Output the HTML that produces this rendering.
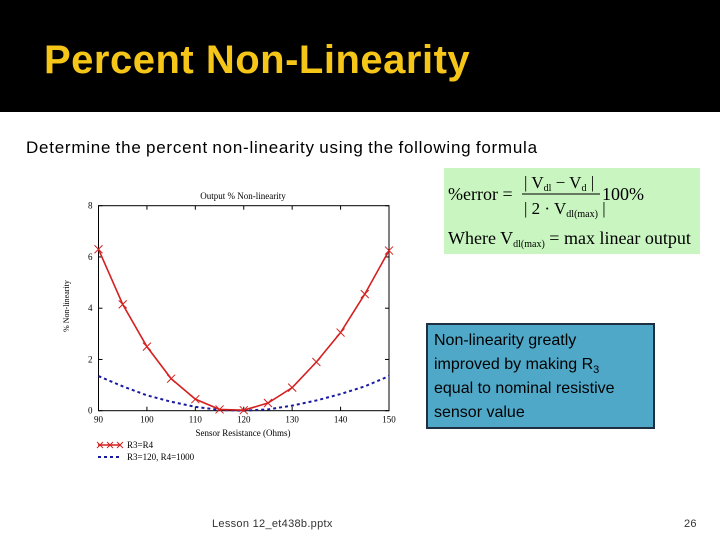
<!DOCTYPE html>
<html><head><meta charset="utf-8"><style>
body{margin:0;width:720px;height:540px;background:#fff;position:relative;overflow:hidden;font-family:"Liberation Sans",sans-serif}
.hdr{position:absolute;left:0;top:0;width:720px;height:112px;background:#000}
.title{position:absolute;left:44px;top:38px;color:#f5c518;font-size:40px;font-weight:bold;letter-spacing:0.5px}
.sub{position:absolute;left:26px;top:138px;font-size:17px;color:#000;letter-spacing:0.75px;word-spacing:-1px}
.formula{position:absolute;left:444px;top:168px;width:256px;height:86px;background:#c9f5c0;font-family:"Liberation Serif",serif;font-size:17px}
.note{position:absolute;left:426px;top:323px;width:229px;height:106px;background:#4fa8c8;border:2px solid #1d2f40;box-sizing:border-box;padding:4px 6px;font-size:16px;line-height:24px;color:#000;white-space:nowrap}
.note sub{font-size:11px;line-height:0;vertical-align:-4px}
.foot{position:absolute;top:518px;font-size:11px;color:#333;letter-spacing:0.3px}
</style></head><body>
<div class="hdr"></div>
<div class="title">Percent Non-Linearity</div>
<div class="sub">Determine the percent non-linearity using the following formula</div>
<div class="formula">
<svg width="256" height="86">
<text x="4" y="32" font-size="18">%error =</text>
<text x="80" y="20" font-size="17">| V<tspan font-size="10" dy="3">dl</tspan><tspan dy="-3"> − V</tspan><tspan font-size="10" dy="3">d</tspan><tspan dy="-3"> |</tspan></text>
<line x1="78" y1="26" x2="156" y2="26" stroke="#000"/>
<text x="80" y="46" font-size="17">| 2 · V<tspan font-size="10" dy="3">dl(max)</tspan><tspan dy="-3"> |</tspan></text>
<text x="158" y="32" font-size="18">100%</text>
<text x="4" y="76" font-size="18">Where V<tspan font-size="10" dy="3">dl(max)</tspan><tspan dy="-3"> = max linear output</tspan></text>
</svg></div>
<div class="note">Non-linearity greatly<br>improved by making R<sub>3</sub><br>equal to nominal resistive<br>sensor value</div>
<svg id="chart" style="position:absolute;left:0;top:0" width="720" height="540"></svg>
<div class="foot" style="left:212px">Lesson 12_et438b.pptx</div>
<div class="foot" style="left:684px">26</div>
<script>
const xs=[90,95,100,105,110,115,120,125,130,135,140,145,150];
const red=[6.3,4.15,2.5,1.25,0.45,0.05,0.02,0.3,0.9,1.9,3.05,4.55,6.25];
const blue=[1.35,0.95,0.6,0.35,0.15,0.03,0,0.05,0.2,0.4,0.65,0.95,1.35];
const xTicks=[90,100,110,120,130,140,150];
const yTicks=[0,2,4,6,8];
const svg=document.getElementById('chart');
const NS='http://www.w3.org/2000/svg';
const L=98.5,R=389,T=205.7,B=410.7;
const X=v=>L+(v-90)/60*(R-L), Y=v=>B-v/8*(B-T);
function mk(t,a,p){const e=document.createElementNS(NS,t);for(const k in a)e.setAttribute(k,a[k]);(p||svg).appendChild(e);return e;}
const frame=mk('rect',{x:L,y:T,width:R-L,height:B-T,fill:'none',stroke:'#000','stroke-width':1});


const ff='Liberation Serif,serif';
xTicks.forEach(v=>{mk('line',{x1:X(v),x2:X(v),y1:B,y2:B-4,stroke:'#000'});mk('line',{x1:X(v),x2:X(v),y1:T,y2:T+4,stroke:'#000'});
const t=mk('text',{x:X(v),y:B+12,'font-size':9,'text-anchor':'middle','font-family':ff});t.textContent=v;

});
yTicks.forEach(v=>{mk('line',{x1:L,x2:L+4,y1:Y(v),y2:Y(v),stroke:'#000'});mk('line',{x1:R,x2:R-4,y1:Y(v),y2:Y(v),stroke:'#000'});
const t=mk('text',{x:L-6,y:Y(v)+3,'font-size':9,'text-anchor':'end','font-family':ff});t.textContent=v;

});
let t=mk('text',{x:243,y:199,'font-size':9,'text-anchor':'middle','font-family':ff});t.textContent='Output % Non-linearity';


t=mk('text',{x:243,y:436,'font-size':9,'text-anchor':'middle','font-family':ff});t.textContent='Sensor Resistance (Ohms)';


t=mk('text',{x:69,y:306,'font-size':8,'text-anchor':'middle','font-family':ff,transform:'rotate(-90 69 306)'});t.textContent='% Non-linearity';


const bl=mk('polyline',{points:xs.map((x,i)=>X(x)+','+Y(blue[i])).join(' '),fill:'none',stroke:'#1a1aa0','stroke-width':2,'stroke-dasharray':'3,3'});


const rl=mk('polyline',{points:xs.map((x,i)=>X(x)+','+Y(red[i])).join(' '),fill:'none',stroke:'#d42020','stroke-width':1.6});


xs.forEach((x,i)=>{const cx=X(x),cy=Y(red[i]);const g=mk('g',{stroke:'#d42020','stroke-width':1});
mk('line',{x1:cx-4,y1:cy-4,x2:cx+4,y2:cy+4},g);mk('line',{x1:cx-4,y1:cy+4,x2:cx+4,y2:cy-4},g);

});
mk('line',{x1:98,x2:120,y1:445,y2:445,stroke:'#d42020','stroke-width':1.5});
[100,110,120].forEach(cx=>{mk('line',{x1:cx-3,y1:442,x2:cx+3,y2:448,stroke:'#d42020'});mk('line',{x1:cx-3,y1:448,x2:cx+3,y2:442,stroke:'#d42020'});});
t=mk('text',{x:127,y:448,'font-size':9,'font-family':ff});t.textContent='R3=R4';


mk('line',{x1:98,x2:120,y1:457,y2:457,stroke:'#1a1aa0','stroke-width':2,'stroke-dasharray':'3,3'});
t=mk('text',{x:127,y:460,'font-size':9,'font-family':ff});t.textContent='R3=120, R4=1000';


</script>
</body></html>
